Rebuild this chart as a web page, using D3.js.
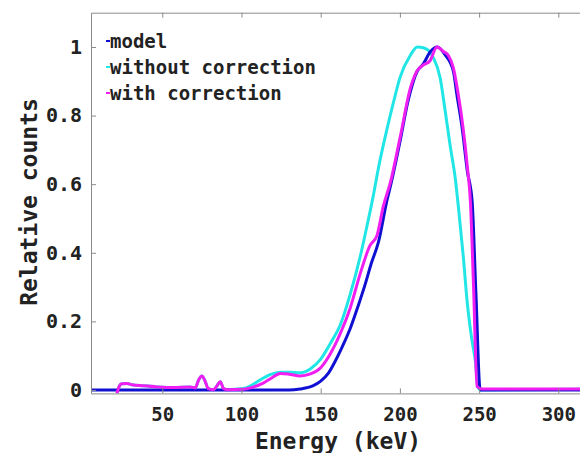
<!DOCTYPE html>
<html>
<head>
<meta charset="utf-8">
<script src="https://cdn.jsdelivr.net/npm/d3@7"></script>
<style>
  body { margin: 0; background: #fff; }
  text { font-family: "DejaVu Sans Mono", monospace; font-weight: bold; fill: #222; }
  .axis path, .axis line { stroke: #8a8a8a; }
</style>
</head>
<body>
<div class="graph"></div>
<script>
const width = 580;
const height = 453;

// series names and colours (legend order)
const seriesNames = ["model", "without correction", "with correction"];
const seriesColors = ["#1010d2", "#22e6e6", "#f01ef0"];

// model
const modelE = [5, 130, 137, 145, 150, 155, 159.3, 165, 168.7, 174, 178.2, 182, 186.4, 192, 194, 200.3, 205, 211, 214.7, 219, 223.6, 228.7, 233.7, 236, 239.4, 242.5, 245.6, 248, 250.7, 320];
const modelV = [0, 0, 0.003, 0.012, 0.026, 0.05, 0.085, 0.14, 0.18, 0.25, 0.31, 0.37, 0.43, 0.556, 0.594, 0.73, 0.84, 0.93, 0.95, 0.985, 1.0, 0.976, 0.93, 0.86, 0.76, 0.64, 0.55, 0.28, 0, 0];

// without correction
const withoutE = [21.4, 23, 24.5, 27.7, 30.9, 38, 46.6, 57, 67.7, 70.8, 73, 75, 77, 79, 82.4, 84.5, 86.6, 88.7, 90.8, 101, 105.7, 112, 118, 124.5, 131, 137, 143.6, 150, 156, 162.4, 168.7, 175, 179.3, 182.5, 187, 191.8, 196, 200, 206.6, 211, 214.7, 218, 221, 225.4, 228.7, 231.8, 235, 237, 240, 242.4, 245, 247.6, 249.5, 251, 320];
const withoutV = [-0.01, 0.012, 0.018, 0.019, 0.015, 0.012, 0.009, 0.007, 0.009, 0.006, 0.03, 0.041, 0.026, 0.004, 0.001, 0.012, 0.024, 0.004, 0.001, 0.004, 0.012, 0.03, 0.045, 0.052, 0.052, 0.05, 0.062, 0.09, 0.135, 0.19, 0.28, 0.39, 0.48, 0.55, 0.66, 0.76, 0.84, 0.91, 0.976, 1.0, 0.998, 0.99, 0.97, 0.91, 0.81, 0.71, 0.615, 0.53, 0.39, 0.26, 0.16, 0.085, 0.006, 0, 0.002];

// with correction
const withE = [21.4, 23, 24.5, 27.7, 30.9, 38, 46.6, 57, 67.7, 70.8, 73, 75, 77, 79, 82.4, 84.5, 86.6, 88.7, 90.8, 101, 107, 113.7, 119, 124.5, 130, 137, 143.5, 150, 156, 162.4, 168.7, 175, 181, 185.5, 189.5, 194, 200.3, 206.6, 210.8, 214.7, 219, 223.4, 227.4, 230.5, 233.7, 236.9, 240, 242.6, 244.5, 246.5, 248.7, 251.8, 320];
const withV = [-0.01, 0.012, 0.018, 0.019, 0.015, 0.012, 0.009, 0.007, 0.009, 0.006, 0.03, 0.041, 0.026, 0.004, 0.001, 0.012, 0.024, 0.004, 0.001, 0.002, 0.008, 0.02, 0.035, 0.048, 0.046, 0.041, 0.047, 0.065, 0.105, 0.165, 0.24, 0.34, 0.42, 0.45, 0.535, 0.605, 0.74, 0.88, 0.93, 0.947, 0.96, 1.0, 0.987, 0.976, 0.94, 0.86, 0.76, 0.65, 0.55, 0.3, 0.01, 0.003, 0.003];

const xTicks = [50, 100, 150, 200, 250, 300];
const yTicks = [0, 0.2, 0.4, 0.6, 0.8, 1];

const canvas = d3.select(".graph")
  .append("svg")
  .attr("width", width)
  .attr("height", height);

canvas.append("rect")
  .attr("width", width)
  .attr("height", height)
  .attr("fill", "#fff");

const x = d3.scaleLinear()
            .domain([5, 320])
            .range([91, 590]);

const y = d3.scaleLinear()
            .domain([-0.01, 1.1])
            .range([393.4, 12.7]);

// clip to the plot box
canvas.append("clipPath")
      .attr("id", "clip")
      .append("rect")
      .attr("x", x(5))
      .attr("y", y(1.1))
      .attr("width", x(320) - x(5))
      .attr("height", y(-0.01) - y(1.1));

const series = [
  d3.zip(modelE, modelV),
  d3.zip(withoutE, withoutV),
  d3.zip(withE, withV)
];

const line = d3.line()
               .x(d => x(d[0]))
               .y(d => y(d[1]))
               .curve(d3.curveMonotoneX);

canvas.append("g")
      .attr("clip-path", "url(#clip)")
      .selectAll("path")
      .data([1, 0, 2])
      .enter().append("path")
      .attr("d", i => line(series[i]))
      .attr("fill", "none")
      .attr("stroke", i => seriesColors[i])
      .attr("stroke-width", 3)
      .attr("stroke-linejoin", "round");

// axes, ticks pointing inward
const xAxis = d3.axisBottom(x).tickValues(xTicks).tickSize(-5).tickPadding(14).tickSizeOuter(0);
canvas.append("g")
      .attr("class", "axis")
      .attr("transform", `translate(0, ${y(-0.01)})`)
      .call(xAxis)
      .selectAll("text")
      .attr("font-size", 19);

canvas.append("g")
      .attr("class", "axis")
      .attr("transform", `translate(0, ${y(1.1)})`)
      .call(d3.axisTop(x).tickValues(xTicks).tickSize(-5).tickSizeOuter(0).tickFormat(""));

const yAxis = d3.axisLeft(y).tickValues(yTicks).tickSize(-5).tickPadding(9).tickSizeOuter(0)
                .tickFormat(d => d === 0 || d === 1 ? d : d3.format(".1f")(d));
canvas.append("g")
      .attr("class", "axis")
      .attr("transform", `translate(${x(5)}, 0)`)
      .call(yAxis)
      .selectAll("text")
      .attr("font-size", 20);

canvas.selectAll(".axis text").style("fill", "#222").attr("font-family", "DejaVu Sans Mono").attr("font-weight", "bold");

canvas.append("text")
      .attr("x", 338)
      .attr("y", 449)
      .attr("text-anchor", "middle")
      .attr("font-size", 23)
      .text("Energy (keV)");

canvas.append("text")
      .attr("transform", "rotate(-90)")
      .attr("x", -202)
      .attr("y", 37)
      .attr("text-anchor", "middle")
      .attr("font-size", 23)
      .text("Relative counts");

// legend
const legend = canvas.append("g")
  .selectAll("g")
  .data(seriesNames)
  .enter().append("g")
  .attr("transform", (d, i) => `translate(106, ${48 + i * 26})`);

legend.append("line")
      .attr("x1", 0).attr("x2", 4)
      .attr("y1", -7).attr("y2", -7)
      .attr("stroke", (d, i) => seriesColors[i])
      .attr("stroke-width", 2);

legend.append("text")
      .attr("x", 4)
      .attr("font-size", 19)
      .text(d => d);
</script>
</body>
</html>
